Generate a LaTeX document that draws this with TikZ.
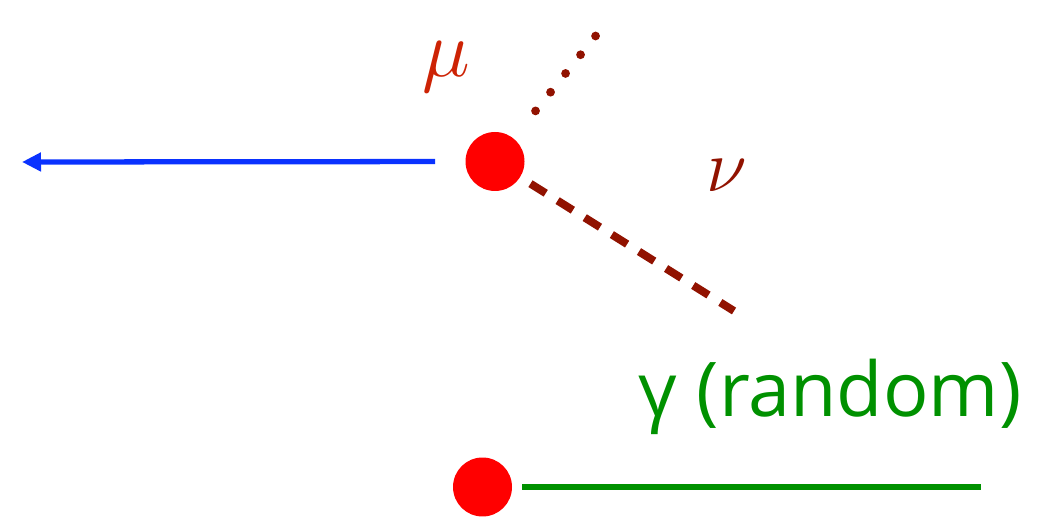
\documentclass[tikz,border=0pt]{standalone}
\usepackage{fontspec}
\usepackage{xcolor}
\usepackage{tikz}
\usetikzlibrary{positioning, arrows.meta, calc}

\newfontfamily\labelfont{Open Sans}

\definecolor{dotred}{RGB}{255,0,0}
\definecolor{trackblue}{RGB}{10,50,255}
\definecolor{nudark}{RGB}{145,18,0}
\definecolor{murust}{RGB}{205,35,5}
\definecolor{gammagreen}{RGB}{0,145,0}

\tikzset{
  vertex/.style={circle, fill=dotred, minimum size=1.18cm, inner sep=0pt},
  lbl/.style={inner sep=0pt},
}

\begin{document}
\begin{tikzpicture}[x=0.02cm, y=-0.02cm]
        \useasboundingbox (0,0) rectangle (1054,519);

        % Decay vertex
        \node[vertex] (vtx) at (495,161.5) {};
        \coordinate (muleft) at (22,162);
        \coordinate (mutop) at (610,18);
        \coordinate (nuend) at (734,311);

        \draw[trackblue, line width=3pt, shorten <=0.6cm,
              -{Triangle[length=0.38cm, width=0.36cm]}] (vtx) -- (muleft);
        \draw[nudark, line width=5pt, line cap=round,
              dash pattern=on 0pt off 0.48cm, shorten <=0.7cm] (vtx) -- (mutop);
        \draw[nudark, line width=4.5pt,
              dash pattern=on 0.36cm off 0.28cm, shorten <=0.24cm] (vtx) -- (nuend);

        \node[lbl, murust] (mu) at (446,67) {\scalebox{1.85}{\Huge$\mu$}};
        \node[lbl, nudark] (nu) at (727,176) {\scalebox{1.7}{\Huge$\nu$}};

        % Random photon
        \node[vertex] (bot) at (482.5,487) {};
        \coordinate (gend) at (981,487);
        \draw[gammagreen, line width=3pt, shorten <=0.2cm] (bot.east) -- (gend);
        \node[lbl, gammagreen, anchor=base] (gam) at (830,417)
          {\labelfont\fontsize{43}{43}\selectfont γ (random)};
      \end{tikzpicture}
\end{document}
